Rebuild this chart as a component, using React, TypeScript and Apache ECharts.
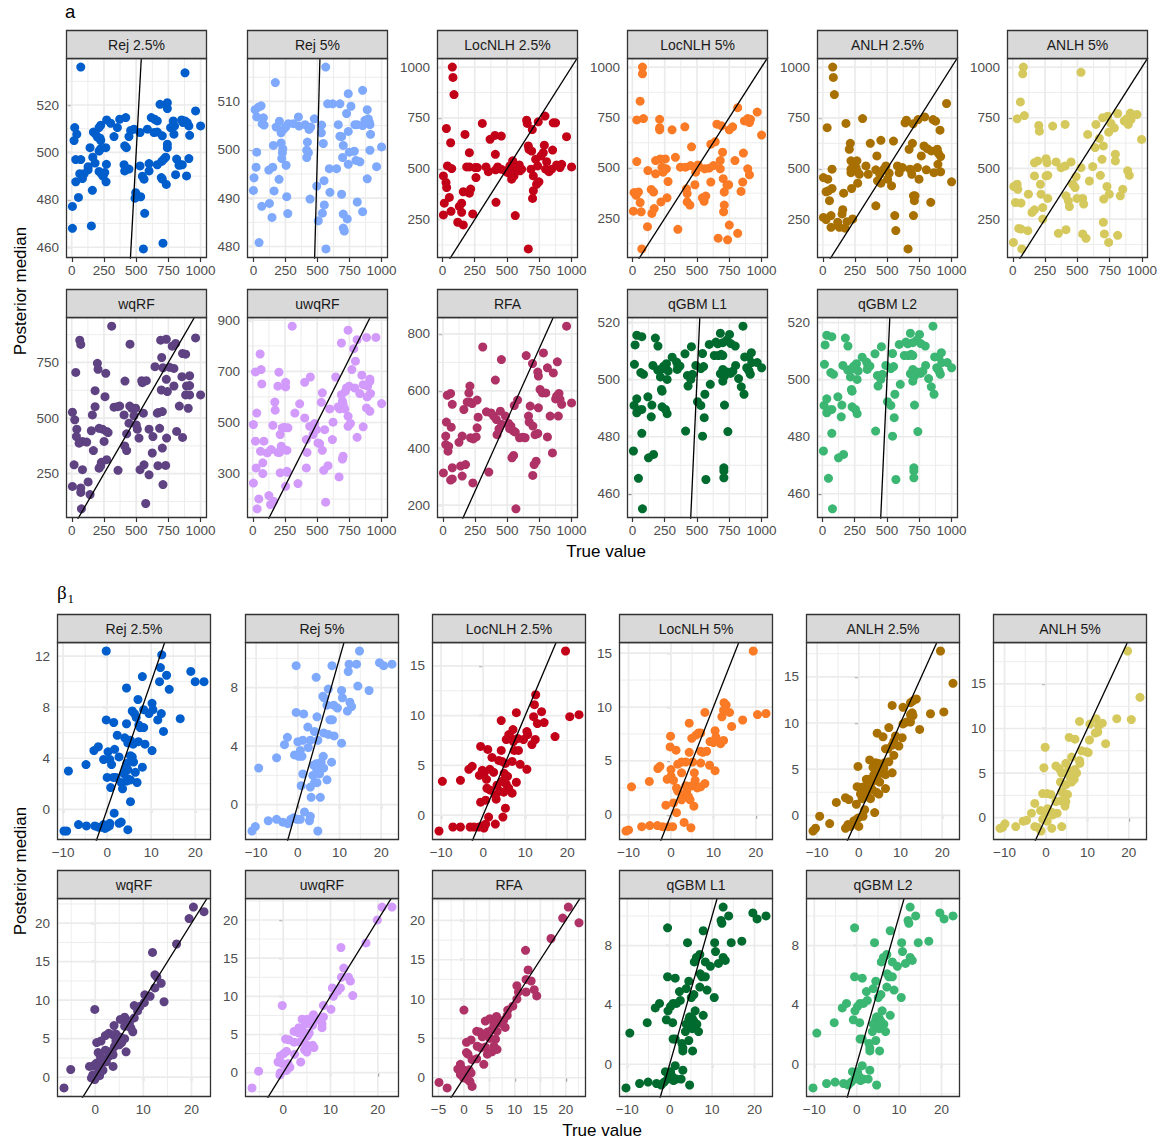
import React, { useEffect, useRef } from "react";
import * as echarts from "echarts";

// ---------------- Section "a" data: [true value, posterior median] ----------------
const aRej25 = [[70,536],[879,533.6],[5,477.2],[5,468],[52,481],[152,469],[160,484],[23,510.5],[39,507.7],[18,505],[31,497],[70,497],[31,487.6],[62,491],[83,489],[96,491],[127,494],[127,492.7],[142,502],[163,498],[181,495.5],[168,508.6],[186,507.7],[199,506.5],[212,510.5],[225,511.5],[220,506],[225,505],[212,500.6],[225,501.6],[212,492],[230,491],[243,490],[256,491.5],[264,502],[269,495],[266,487.6],[271,513.7],[302,512.3],[328,506.7],[354,510.5],[372,514],[419,514.7],[411,502.8],[424,502],[406,494.8],[411,492.2],[444,506.7],[457,509.3],[444,493],[483,509.8],[496,483],[509,481.7],[491,480.7],[535,481.3],[530,494.3],[530,508.4],[548,490],[561,488.7],[566,474.3],[556,459.3],[587,509.8],[600,492.2],[600,495.3],[617,514.7],[643,514],[664,513.3],[638,508.4],[664,508.6],[685,520.3],[703,507],[664,494.8],[698,496.2],[716,497.2],[729,498],[695,489.4],[703,488.7],[734,486.5],[742,521],[742,518.5],[742,503.5],[742,502],[708,461.7],[767,510.5],[788,513.3],[793,507.7],[798,511.2],[806,490.6],[814,497.2],[832,494.6],[853,513.7],[864,512.6],[845,494.8],[858,494.8],[879,513.3],[896,512.6],[909,511.2],[891,490.1],[915,507.2],[909,497.4],[961,517.5],[1000,511.2]];
const aRej5 = [[13,508.3],[26,506.8],[39,508.8],[60,509.1],[78,506.6],[83,505.1],[68,505.4],[26,499.5],[21,496.4],[5,494.2],[0,491.6],[44,480.8],[65,488.3],[145,486],[125,488.9],[120,495.8],[151,496.4],[161,491.5],[156,500.9],[171,513.9],[177,504.7],[203,505.9],[200,493.9],[216,501.4],[229,500.2],[226,499.4],[221,498.2],[216,503.5],[234,504.2],[252,504.7],[273,505.4],[255,496.8],[260,490.3],[268,486.8],[312,505.4],[351,506.8],[356,504.9],[403,505.2],[434,504.2],[447,504.7],[421,501.6],[416,499.9],[416,498.4],[429,499.4],[442,489.8],[475,506.4],[494,492.5],[506,485.3],[532,505.1],[530,503.5],[545,501.3],[551,493.6],[553,488.6],[538,486.9],[566,479.5],[579,509.5],[618,509.5],[675,509.5],[662,505.2],[592,496.1],[597,491.2],[649,496.1],[564,517.1],[675,502.8],[688,502.7],[701,500.9],[696,498.4],[688,490.8],[701,486.7],[701,483.8],[709,483.2],[732,485.7],[727,507.5],[740,511.6],[761,509],[740,503.8],[740,497],[748,499.5],[787,499.7],[792,505.2],[810,505.2],[800,497.8],[810,489.2],[831,497.5],[852,512.3],[852,505],[852,487.2],[870,506.1],[888,508.3],[896,506.4],[904,505.7],[909,505.2],[914,503.2],[909,499.9],[888,494],[1000,500.6],[961,496.5]];
const aLoc25 = [[77,1000],[82,949],[90,865],[31,698],[64,628],[8,465],[28,433],[33,408],[39,514],[72,501],[54,359],[15,331],[8,273],[67,291],[119,237],[149,286],[131,315],[149,331],[162,224],[162,387],[175,669],[209,579],[219,400],[209,380],[235,278],[188,509],[209,509],[253,506],[260,457],[271,506],[309,723],[338,509],[356,486],[369,645],[407,664],[410,571],[412,495],[415,335],[428,509],[456,661],[454,498],[487,490],[506,481],[523,514],[531,490],[544,539],[536,449],[554,465],[564,270],[575,506],[593,506],[601,490],[613,498],[595,519],[652,739],[657,723],[665,612],[665,106],[670,596],[691,587],[696,693],[698,354],[704,392],[686,498],[704,465],[722,547],[729,424],[742,731],[737,514],[747,436],[763,563],[781,579],[789,616],[794,759],[799,498],[807,535],[825,486],[845,498],[853,592],[858,726],[876,726],[884,519],[910,506],[923,522],[961,658],[1000,509]];
const aLoc5 = [[78,1000],[78,967],[60,831],[34,738],[86,745],[34,532],[13,378],[29,365],[47,381],[60,329],[8,286],[68,283],[73,99],[120,487],[117,209],[146,394],[164,381],[151,275],[169,299],[180,471],[180,537],[211,741],[211,700],[211,689],[216,545],[221,332],[229,504],[237,479],[255,545],[263,496],[268,352],[276,433],[307,689],[333,553],[352,196],[372,504],[406,704],[411,504],[419,397],[424,373],[424,332],[445,316],[451,512],[458,605],[484,417],[490,479],[508,515],[516,504],[542,352],[555,335],[568,361],[560,496],[594,499],[607,618],[607,430],[628,512],[641,630],[654,717],[664,152],[680,496],[680,537],[690,709],[698,578],[703,447],[711,381],[706,283],[711,316],[732,414],[745,417],[737,144],[750,689],[776,704],[750,217],[794,537],[815,799],[815,176],[841,384],[854,430],[859,574],[867,733],[893,745],[906,725],[914,741],[893,496],[906,466],[966,777],[1000,663]];
const aAnlh25 = [[77,1000],[82,949],[90,865],[34,702],[72,498],[5,457],[39,449],[26,387],[44,392],[72,403],[52,343],[5,261],[26,250],[64,270],[64,212],[116,237],[129,212],[155,299],[150,278],[162,380],[173,208],[180,723],[188,240],[206,596],[214,625],[219,539],[219,498],[219,481],[224,403],[232,253],[245,522],[258,506],[265,539],[265,490],[271,429],[284,473],[309,747],[335,514],[353,473],[369,625],[412,495],[412,318],[420,563],[425,441],[443,473],[451,640],[451,429],[474,498],[490,514],[503,449],[515,478],[534,416],[549,636],[559,270],[567,196],[580,514],[593,481],[619,506],[639,726],[649,739],[670,596],[678,498],[691,473],[696,625],[701,721],[704,367],[711,343],[704,270],[716,367],[735,506],[747,449],[740,742],[765,563],[786,612],[791,755],[804,495],[812,599],[838,335],[843,588],[856,742],[863,481],[876,734],[889,596],[894,522],[897,576],[910,690],[915,485],[915,560],[961,821],[1000,436],[662,106]];
const aAnlh5 = [[82,1000],[77,967],[59,828],[90,761],[34,745],[528,974],[8,411],[34,422],[39,397],[21,332],[64,329],[46,204],[64,201],[5,135],[116,193],[70,103],[121,373],[149,283],[168,296],[168,463],[168,528],[193,537],[201,712],[206,684],[214,422],[219,373],[232,307],[232,250],[258,548],[258,463],[271,466],[265,528],[271,352],[309,709],[335,532],[353,180],[374,504],[405,512],[405,717],[412,198],[412,365],[430,340],[438,312],[451,532],[464,422],[482,406],[490,460],[497,352],[528,504],[541,352],[549,324],[541,177],[567,155],[580,668],[593,438],[619,509],[637,603],[644,717],[670,648],[678,466],[691,545],[696,750],[701,611],[701,234],[704,349],[709,177],[735,758],[742,679],[729,411],[747,373],[742,135],[760,722],[786,700],[794,570],[794,537],[812,771],[812,170],[832,365],[851,397],[863,734],[881,745],[894,717],[910,773],[915,741],[889,488],[902,466],[961,766],[997,643]];
const aWqrf = [[62,850],[70,831],[31,705],[5,526],[23,492],[39,450],[36,417],[57,387],[83,395],[18,290],[5,193],[70,186],[70,166],[83,268],[75,92],[116,392],[127,213],[142,156],[152,443],[168,354],[160,514],[181,551],[181,623],[199,746],[204,719],[212,454],[212,275],[230,301],[225,286],[238,450],[251,395],[264,701],[258,596],[271,440],[271,313],[282,435],[310,913],[328,549],[354,551],[359,265],[372,554],[406,514],[413,666],[411,375],[426,354],[426,429],[444,477],[452,832],[450,554],[465,544],[483,510],[496,544],[501,469],[509,450],[522,410],[530,268],[548,659],[556,522],[561,290],[543,668],[579,668],[574,116],[600,450],[600,245],[625,343],[630,417],[646,731],[664,522],[672,525],[669,286],[682,454],[690,850],[698,772],[708,726],[695,626],[703,529],[703,365],[708,201],[729,287],[734,854],[734,674],[736,410],[742,619],[760,728],[780,823],[793,723],[793,644],[806,835],[814,440],[835,554],[855,686],[860,790],[860,413],[884,787],[884,604],[891,644],[904,544],[915,690],[915,646],[915,604],[961,860],[1000,604]];
const aUwqrf = [[306,877],[740,861],[688,811],[810,824],[883,833],[956,833],[784,789],[57,768],[21,698],[65,707],[70,651],[203,697],[195,642],[255,657],[255,639],[403,657],[447,678],[644,678],[797,740],[769,707],[847,685],[909,670],[909,661],[891,642],[727,635],[748,642],[719,622],[688,609],[792,635],[857,648],[831,613],[914,613],[888,600],[540,616],[696,583],[701,570],[662,561],[675,553],[714,553],[597,553],[532,579],[364,573],[327,537],[171,580],[174,548],[883,557],[909,544],[1000,574],[740,524],[740,485],[758,496],[857,483],[810,442],[403,518],[481,496],[442,485],[468,453],[494,472],[506,420],[519,417],[540,391],[558,472],[623,501],[618,433],[584,331],[551,313],[566,188],[670,287],[696,357],[701,368],[416,433],[416,322],[421,383],[351,261],[265,309],[265,391],[234,397],[229,479],[247,481],[273,479],[213,453],[221,407],[208,383],[213,303],[195,383],[156,489],[143,394],[112,381],[86,427],[60,387],[78,342],[78,300],[26,322],[5,263],[5,492],[21,427],[31,537],[125,214],[138,179],[161,192],[47,201],[34,162],[255,250],[268,305]];
const aRfa = [[961,827],[309,754],[454,710],[647,724],[781,733],[696,696],[889,702],[737,666],[742,652],[812,681],[858,663],[407,638],[59,591],[33,585],[72,553],[209,617],[201,593],[188,561],[209,561],[227,556],[265,568],[162,535],[273,508],[338,527],[374,523],[394,512],[415,500],[446,529],[485,512],[435,467],[456,483],[420,447],[510,486],[528,477],[549,459],[562,456],[580,568],[554,549],[518,468],[26,491],[21,442],[21,412],[39,389],[64,473],[44,406],[3,313],[72,331],[59,288],[72,292],[137,337],[175,342],[149,302],[124,420],[149,442],[214,436],[235,432],[258,439],[265,471],[232,278],[356,316],[536,366],[549,374],[567,187],[595,436],[621,438],[639,436],[665,512],[670,491],[678,547],[699,477],[716,447],[737,451],[698,304],[709,342],[724,354],[742,541],[755,605],[773,593],[799,593],[812,439],[833,512],[851,383],[876,572],[884,582],[902,591],[910,570],[897,512],[923,553],[1000,558]];
const aQgbm = [[856,518.8],[752,515.9],[681,516.3],[731,513.9],[762,512.7],[796,511.8],[595,512.4],[647,513.2],[661,512.6],[700,513],[457,511.6],[34,515.6],[73,515.1],[21,512.2],[178,514.6],[198,511.8],[407,509.1],[308,507.9],[543,509.2],[634,508.5],[666,508.5],[687,508.9],[700,508.5],[869,508],[901,508.1],[921,509.5],[342,506.2],[352,505],[368,504.8],[347,503.6],[16,505.4],[159,505],[264,505.6],[243,504.8],[217,503.6],[196,503.4],[238,503.9],[277,503.1],[269,500.1],[217,501],[230,496],[225,496.6],[65,502.5],[86,501.9],[530,503.9],[491,505],[551,504.6],[426,501.5],[431,497.8],[452,500.1],[465,501.9],[681,502.1],[700,503.6],[713,501.3],[734,502.7],[760,502.2],[778,503],[700,499.5],[603,498.4],[799,505],[885,504.2],[904,503],[913,501.9],[896,503.6],[924,506],[966,506],[1000,504.2],[822,500.4],[843,497.5],[864,494.9],[561,494.9],[13,491],[34,493.3],[34,488.4],[60,489.4],[73,489.6],[120,494],[151,491.1],[146,487],[230,490.5],[256,489.6],[269,488.1],[504,492.3],[530,491],[556,486.7],[713,491.1],[73,481.2],[412,482],[543,480.2],[739,481.8],[8,475],[164,473.8],[125,472.6],[47,465.4],[569,465],[708,469.1],[708,468],[708,465.6],[78,454.7]];

// ---------------- Section "beta1" data ----------------
const bRej25 = [[-0.2,12.4],[12.4,12.1],[12.1,11.1],[19,10.8],[11.9,10],[13.5,10.5],[20,10],[22,10],[8,10.4],[14.1,9.4],[4.4,9.5],[7,8.6],[10.2,8.3],[9.5,7.5],[10.4,7.8],[8.3,7.8],[5.7,7.7],[6.2,7.5],[6.6,7.2],[12.3,7.5],[11.5,7],[16.6,7.1],[-0.2,7],[1.5,6.8],[4.4,6.7],[7.5,6.4],[8.3,6.4],[7.2,6.6],[12.8,6.1],[2.3,5.8],[4,5.6],[5.3,5.4],[7.1,5.3],[4.7,5.2],[8.6,5.1],[5.9,5.1],[10.2,4.6],[-2,4.9],[-3,4.6],[0.2,4.5],[1.7,4.7],[-0.8,3.9],[0.6,3.9],[2.7,4.1],[5.3,4.2],[5.7,4.1],[6,3.7],[4.5,3.6],[1,3.5],[-4.8,3.5],[-8.8,3],[4.2,3.2],[4.7,3.1],[8,3.3],[3.8,2.8],[6.4,2.9],[0,2.5],[1.4,2.5],[2,2.5],[4.7,2.4],[5.3,2.3],[4.4,2.2],[3.2,2.1],[6.8,2.1],[3.5,1.6],[0.8,1.7],[5.3,0.6],[1.6,-0.3],[-9.2,-1.7],[-6.5,-1.2],[-4.7,-1.3],[-2.8,-1.3],[-2,-1.4],[-1.3,-1.4],[-0.5,-1.5],[0,-1.4],[0.5,-1.3],[-0.8,-1.2],[0.6,-1.1],[2.7,-1.1],[3.2,-1],[4.7,-1.6],[-9.8,-1.7]];
const bRej5 = [[14.8,10.5],[-0.4,9.5],[8.2,9.5],[12.3,9.6],[14.1,9.6],[12.1,9.1],[19.6,9.7],[20.6,9.5],[22.6,9.6],[4.4,8.7],[14.4,8.1],[17.1,7.8],[7.3,7.9],[10.5,7.8],[6,7.4],[6.3,7.3],[10.7,7.3],[12.5,7],[7,6.8],[8.6,6.8],[12.9,6.7],[-0.4,6.3],[1.4,6.2],[9.5,6.6],[11.9,6.4],[4.6,6],[7.7,5.8],[8.3,5.8],[2.4,5.3],[4,5],[6.2,4.9],[8.7,4.7],[7.3,4.8],[4.8,4.4],[3,4.4],[1.2,4.4],[0,4.3],[-2.5,4.6],[-3.2,4.1],[10.5,4.2],[2.5,3.9],[0.6,3.7],[-0.8,3.4],[0.2,3.3],[1,3.3],[-5.1,3.2],[6.1,3.3],[5.6,2.9],[8.1,2.9],[4.4,2.8],[4.9,2.8],[3.8,2.7],[4.4,2.5],[6.2,2.5],[-9.4,2.5],[1.2,2.1],[3.6,2],[5.2,2.1],[7,1.7],[0.8,1.3],[3,1.2],[4,1.5],[4.6,1.5],[3.2,0.5],[5.4,0.5],[1.6,-0.5],[-1,-0.9],[-0.2,-1],[0.6,-1],[-1.7,-1],[-2.4,-1.3],[-3.6,-1.2],[-5.1,-1],[-7.1,-1.1],[3,-0.8],[2.8,-1.1],[4.8,-1.8],[-10.2,-1.5],[-11,-1.8]];
const bLoc25 = [[19.6,16.5],[12.5,12.1],[12.2,11.1],[13.9,10.4],[7.9,10.3],[12,9.9],[20.6,9.9],[22.8,10.1],[14.5,9.3],[12.9,9.2],[4.3,9.5],[7.1,8.6],[10.4,8.4],[10.6,8.1],[9.6,7.6],[12.4,7.6],[17.1,7.9],[11.6,7.1],[6.1,8.1],[6.5,7.8],[5.5,7.6],[8.2,7.7],[7.2,7.4],[7.4,6.5],[8.4,6.5],[-0.6,6.9],[1.1,6.6],[4.3,6.5],[2.1,5.8],[3.7,5.5],[4.5,5.4],[6.9,5.4],[5.3,5.2],[8.8,5.1],[10.4,4.6],[-3.4,4.6],[-2.6,4.9],[-0.2,4.5],[0.2,4.2],[1.6,4.6],[2.5,4.3],[-0.9,4],[0.8,3.6],[5,4.2],[5.8,3.9],[4.5,3.4],[-5.4,3.5],[-9.7,3.4],[3.3,3],[5.5,3.1],[7.9,3.3],[6.1,2.7],[0.9,2.7],[1.7,2.5],[3.9,2.4],[4.9,2.3],[2.9,2],[3.1,1.6],[6.9,2.2],[-0.6,1.3],[0.6,1.5],[5.3,0.7],[1.3,-0.2],[4.7,-0.2],[2.9,-0.9],[-10.5,-1.6],[-7.2,-1.2],[-5.4,-1.2],[-3.1,-1.2],[-2.2,-1.2],[-1,-1.2],[-0.2,-1.1],[0.2,-1.3],[0.6,-0.9]];
const bLoc5 = [[19.4,15.2],[12.5,10.4],[13,10.2],[8,9.5],[12.4,9.7],[13.8,9.5],[12,9.1],[20.4,9.3],[22.4,9.4],[4.3,8.5],[14.3,8.2],[16.9,8.8],[-0.1,7.3],[5.9,7.4],[6.5,7.6],[7,7.6],[10.4,7.8],[10.6,7.2],[4.9,7.1],[9.2,6.8],[10,6.7],[11.7,6.6],[12.4,6.9],[-0.2,6.3],[1.2,6],[4.3,5.8],[7,5.9],[7.5,5.8],[8.4,5.9],[2.5,4.9],[3.5,4.9],[5.1,4.9],[7,4.8],[9.1,4.6],[1.6,4.7],[10.4,4.1],[0,4.2],[2.5,3.9],[5.5,3.9],[-3.1,4.3],[-2.6,4.5],[0,3.6],[-0.9,3.3],[0.6,3.2],[5.7,3.2],[-5.1,3.1],[-9.3,2.6],[3.5,2.7],[4.1,2.6],[4.9,2.7],[6.2,2.5],[7,2.6],[8,2.9],[1.3,2.5],[1.6,2.2],[3.7,2.2],[3.1,1.8],[4.1,1.7],[2.5,1.4],[4.5,1.4],[0.6,1.1],[-1.2,0.9],[5.4,0.8],[1.3,0.2],[0.4,-1.1],[-0.6,-1.1],[-2,-1.1],[-3.2,-1],[-5,-1],[-6.9,-1.1],[-10.6,-1.5],[-10,-1.4],[3.1,-0.7],[4.7,-1.2]];
const bAnlh25 = [[19.6,17.8],[22.6,14.3],[13.8,12.6],[13,12.4],[12.4,12.2],[8,11.9],[10.6,11.7],[20.4,11.2],[17.2,11],[12.8,11.1],[12.4,10.9],[13,10.8],[11.4,10.1],[12.4,10.1],[10.6,9.9],[14.6,9.3],[7.2,9.5],[4.4,8.9],[5.8,8.5],[10.4,8.4],[8.8,8.6],[8.4,8],[8,7.6],[9.6,7.5],[6.4,7.2],[7,7.2],[8.4,6.5],[2.6,6],[7.2,5.8],[4,5.7],[4.8,5.6],[6.2,5.7],[3.4,5.2],[6,5.1],[-0.2,5.3],[5.2,4.8],[8,4.6],[4.6,4.4],[6.4,4.4],[3.6,4.4],[1.8,3.9],[2.4,3.9],[3.8,3.8],[5,3.6],[2.8,3.4],[-0.4,3.1],[0.4,3],[1.2,3.1],[1.6,2.8],[3.2,2.8],[6.4,2.9],[4.2,2.5],[4.8,2.3],[0.4,2.3],[1.6,2.2],[0.8,1.8],[2.2,2],[2.8,1.8],[-3.2,1.9],[-2.4,1.7],[-5.4,1.4],[-0.6,1.2],[1.4,0.6],[3.8,0.3],[1,-0.1],[-0.2,-0.3],[-1.2,-0.6],[-2.6,-1],[-2,-1.2],[0,-1.2],[-3.2,-1.4],[-9.4,-0.1],[-7,-0.9],[-10.4,-1.4],[-11,-1.7]];
const bAnlh5 = [[19.7,18.7],[22.7,13.5],[17.1,11.1],[20.6,11],[12.1,11.1],[10.6,10.5],[8.1,10.8],[13.6,10.6],[12.7,10.3],[11.9,9.5],[12.5,9.6],[14.4,8.3],[5.6,9],[7,8.8],[10.5,8.7],[-0.2,7.9],[6.2,6.8],[8.6,7.5],[9.7,7.4],[10.2,7.3],[2.4,5.8],[3.2,5.5],[4.8,6.1],[3.8,5],[5.4,5.3],[7,5.4],[7.4,5],[8.1,6.4],[8.2,6.1],[-0.5,5.6],[5.8,4.5],[6.8,4.3],[6.2,4],[3.5,4],[4.8,3.7],[3.8,2.9],[4.4,2.7],[5.2,2.6],[-0.8,2.7],[0.3,2.7],[1.2,2.6],[2.4,1.8],[3.6,1.9],[4.8,1.8],[4.6,1.3],[-2.7,1.6],[0.4,1],[-0.2,0.5],[-1.3,0.8],[1.4,0.6],[2.7,0.5],[1.6,0.3],[-3.5,0.5],[-0.8,-0.2],[-4.7,-0.3],[-5.5,-0.4],[-7.3,-1],[-9.9,-0.7],[-11.1,-1.2],[-10.5,-1.1],[-2.7,-1],[-2,-1.1],[-1.2,-1.5],[1.4,-1.2],[3.8,-1],[0.3,-0.4]];
const bWqrf = [[20.4,22.1],[22.6,21.5],[19.5,20.6],[16.9,17.3],[11.9,16.2],[12.4,13.3],[12.8,13],[12.4,11.6],[13.7,12.2],[10.3,10.7],[11.4,10.5],[14.3,9.8],[10.2,9.7],[9.3,9.2],[8.1,9.3],[-0.1,8.8],[8.8,8.6],[8.1,7.7],[6.4,7.5],[6.1,7.8],[5.2,7.5],[7.1,7],[7.4,6.4],[7.8,5.9],[6.1,6.6],[3.9,6.7],[2.8,5.7],[3.7,5.5],[4.3,5.6],[2.1,5.4],[5.2,5.2],[6.1,5],[4.3,4.7],[0.3,4.5],[1.2,4.7],[5,4.2],[5.5,4.5],[4,4],[3.5,3.4],[2.1,3.5],[6.4,3.3],[2.8,2.7],[3.7,2.9],[0.6,3.2],[1.1,2.6],[1.6,2.3],[2.3,2],[0.9,2],[0.2,1.8],[-0.3,1.5],[-1.2,1.4],[0.6,1.2],[1.2,1.6],[3.7,1.4],[1.6,0.9],[0.8,0.5],[-0.5,0.3],[-0.8,-0.1],[-0.1,-0.3],[0.9,0.2],[-5.1,1],[-6.5,-1.4]];
const bUwqrf = [[20.9,21.7],[23,21.7],[19.9,20],[17.5,17],[12.2,16.4],[12.8,13.7],[12.3,12.5],[13.8,12.5],[14.2,12],[12.1,11.1],[10.4,11.1],[11.5,10.7],[14.7,10.1],[10.6,10],[10.1,8.3],[8.5,8.8],[-0.2,8.8],[6.2,7.3],[6.4,7.6],[8.5,7.3],[7.2,7],[8.2,6.4],[8.2,5.9],[5.1,7],[4,7],[4.8,6.4],[6.2,6.2],[3.3,5.9],[4,5.6],[2.3,5.4],[2.8,5.4],[3.3,5.2],[5.5,5.2],[5.1,4.8],[4.4,4.6],[0.5,4.4],[1.2,4.3],[2.3,4],[3.5,4],[4.8,3.7],[6.2,3.6],[6.5,3.3],[5,2.7],[4.5,3],[0.7,2.8],[0.1,2.5],[2.4,2.4],[-0.6,2.2],[3.7,1.4],[-1.1,1.4],[-0.2,1.2],[1,1.2],[1.4,0.7],[0.7,0.3],[-0.6,0],[-0.7,-0.3],[-5.2,0.2],[-6.6,-2]];
const bRfa = [[20.5,21.7],[19.4,20.3],[22.6,19.7],[17.1,17.7],[12.1,16.2],[12.6,13.7],[12.2,12.5],[13.2,12.3],[10.4,11.7],[13.8,11.2],[10.7,10.9],[12.2,10.9],[14.3,10.4],[10.4,10],[9.6,9.1],[8.6,8.6],[0,8.6],[8.5,7.9],[6.4,7.8],[7.8,7.3],[6.8,7.2],[5.1,7.5],[4.2,7.2],[7.3,6.9],[5.9,6.8],[8.1,6.4],[5.5,6.1],[2.5,5.9],[3.1,5.8],[4.6,5.8],[6.5,5.9],[3.6,5.2],[5.1,5],[6.2,4.9],[0.5,4.5],[1.4,4.8],[2.6,4],[3.3,3.8],[4.2,3.9],[5.9,4],[5.5,3.3],[4.6,3],[6.5,3.6],[0.5,3.2],[0.8,3],[1.6,2.3],[2.5,2.4],[3.9,1.7],[-0.7,1.7],[-1.2,1.1],[-0.3,1.1],[0.3,0.6],[1,1],[1.4,0.6],[-0.7,0.4],[-0.1,0],[0.7,-0.2],[1.2,-0.5],[1.6,-1.1],[-4.9,-0.6],[-3.3,-1.3]];
const bQgbm = [[12.6,10.6],[13.9,10],[19.6,10.2],[20.6,9.8],[22.7,10],[12.1,9.7],[12.3,9.5],[-0.5,9.2],[7.9,9],[4.2,8.2],[10.6,8.2],[14.5,8.2],[17,8.3],[10.8,7.6],[7.1,7.4],[6.3,7.2],[12.6,7.2],[13.1,7],[8.4,6.9],[5.8,6.9],[9.6,6.6],[11.5,6.8],[-0.5,5.9],[1.3,5.8],[7.2,6.1],[7.6,5.9],[8.4,5.9],[4.5,5.6],[3.9,5.1],[2.3,4.9],[7.1,5.2],[8.8,5],[5.7,4.7],[5.1,4.5],[10.5,4.5],[2.5,4.3],[1.6,4.1],[0.8,4.1],[0.2,3.9],[-0.4,3.6],[-2.4,4.1],[-3.4,3.8],[6,3.6],[7.9,3.3],[4.7,3.2],[5.3,3.1],[4.5,3],[5.7,2.9],[6.4,2.7],[5,2.7],[-0.8,3],[0.7,2.8],[-5.3,2.8],[3.9,2.7],[5.3,2.4],[3.7,2.2],[6.8,2.2],[4.5,1.6],[0.8,1.7],[1.3,1.7],[2.9,1.4],[3.1,1.1],[3.1,0.9],[5.4,0.9],[-9.4,2.1],[1.3,-0.1],[-1,-0.5],[0.2,-0.5],[3.1,-0.4],[0.5,-0.8],[-0.5,-1],[-1.3,-1.2],[0.9,-1.1],[1.6,-1],[2.7,-1],[-2,-1.4],[-3.1,-1.3],[-5.1,-1.2],[-7.1,-1.3],[4.7,-1.4],[-10.3,-1.6]];

// ---------------- names, colours, tick labels ----------------
const panelNames = ["Rej 2.5%", "Rej 5%", "LocNLH 2.5%", "LocNLH 5%", "ANLH 2.5%", "ANLH 5%", "wqRF", "uwqRF", "RFA", "qGBM L1", "qGBM L2"];
const panelColors = ["#005ECC", "#7EA9FD", "#C20018", "#FA7A25", "#A87000", "#D5C95D", "#5E4282", "#D29BFB", "#AF3266", "#006B2E", "#3BB673"];
const aData = [aRej25, aRej5, aLoc25, aLoc5, aAnlh25, aAnlh5, aWqrf, aUwqrf, aRfa, aQgbm, aQgbm];
const bData = [bRej25, bRej5, bLoc25, bLoc5, bAnlh25, bAnlh5, bWqrf, bUwqrf, bRfa, bQgbm, bQgbm];

const aXTicks = [0, 250, 500, 750, 1000];
const aYTicks = [
  [460, 480, 500, 520], [480, 490, 500, 510], [250, 500, 750, 1000], [250, 500, 750, 1000],
  [250, 500, 750, 1000], [250, 500, 750, 1000], [250, 500, 750], [300, 500, 700, 900],
  [200, 400, 600, 800], [460, 480, 500, 520], [460, 480, 500, 520],
];
const bXTicksStd = [-10, 0, 10, 20];
const bXTicksRF = [0, 10, 20];
const bXTicksRFA = [-5, 0, 5, 10, 15, 20];
const bXTicks = [bXTicksStd, bXTicksStd, bXTicksStd, bXTicksStd, bXTicksStd, bXTicksStd, bXTicksRF, bXTicksRF, bXTicksRFA, bXTicksStd, bXTicksStd];
const bYTicks = [
  [0, 4, 8, 12], [0, 4, 8], [0, 5, 10, 15], [0, 5, 10, 15], [0, 5, 10, 15], [0, 5, 10, 15],
  [0, 5, 10, 15, 20], [0, 5, 10, 15, 20], [0, 5, 10, 15, 20], [0, 4, 8], [0, 4, 8],
];

// ---------------- layout (pixels) ----------------
const FONT = '"Liberation Sans", Arial, Helvetica, sans-serif';
const SERIF = '"Liberation Serif", "DejaVu Serif", serif';
const AXIS_FS = 13.5;
const STRIP_FS = 14;
const TITLE_FS = 17;
const STRIP_H = 28;
const A_COLS = [66, 247, 437, 627, 817, 1007];
const A_W = 141;
const A_ROWS = [{ top: 58, h: 200 }, { top: 317, h: 201 }];
const B_COLS = [57, 245, 432, 619, 806, 993];
const B_W = 154;
const B_ROWS = [{ top: 642, h: 198 }, { top: 898, h: 199 }];

const fmt = (v: number) => String(v).replace("-", "\u2212");

function expand(vals: number[]) {
  const lo = Math.min(...vals), hi = Math.max(...vals);
  const p = (hi - lo) * 0.05;
  return [lo - p, hi + p];
}
function minors(br: number[], lo: number, hi: number) {
  const step = br[1] - br[0];
  const out: number[] = [];
  for (let k = -4; k < br.length + 4; k++) {
    const v = br[0] + (k + 0.5) * step;
    if (v > lo && v < hi) out.push(v);
  }
  return out;
}

function buildOption() {
  const grid: any[] = [], xAxis: any[] = [], yAxis: any[] = [], series: any[] = [], elements: any[] = [];

  const addPanel = (data: number[][], color: string, name: string, xt: number[], yt: number[], left: number, top: number, w: number, h: number) => {
    const idx = grid.length;
    const xr = expand(data.map((d) => d[0]));
    const yr = expand(data.map((d) => d[1]));
    grid.push({ left, top, width: w, height: h, show: false, containLabel: false, outerBoundsMode: "none" });
    const axisBase = (range: number[], ticks: number[], isX: boolean) => ({
      gridIndex: idx, type: "value", min: range[0], max: range[1], scale: true,
      axisLine: { show: false }, splitLine: { show: false }, minorSplitLine: { show: false },
      axisTick: { show: true, inside: false, length: 4, customValues: ticks, lineStyle: { color: "#333333", width: 1.2 } },
      axisLabel: { show: true, customValues: ticks, color: "#4D4D4D", fontSize: AXIS_FS, fontFamily: FONT, margin: isX ? 5 : 7, formatter: (v: number) => fmt(v), hideOverlap: false },
      axisPointer: { show: false },
    });
    xAxis.push(axisBase(xr, xt, true));
    yAxis.push(axisBase(yr, yt, false));

    const gl: number[][] = [];
    xt.filter((v) => v >= xr[0] && v <= xr[1]).forEach((v) => gl.push([0, v, 1]));
    minors(xt, xr[0], xr[1]).forEach((v) => gl.push([0, v, 0]));
    yt.filter((v) => v >= yr[0] && v <= yr[1]).forEach((v) => gl.push([1, v, 1]));
    minors(yt, yr[0], yr[1]).forEach((v) => gl.push([1, v, 0]));
    series.push({
      type: "custom", xAxisIndex: idx, yAxisIndex: idx, data: gl, silent: true, z: 1,
      renderItem: (params: any, api: any) => {
        const cs = params.coordSys;
        const dir = api.value(0), v = api.value(1), major = api.value(2);
        const style = { stroke: "#EBEBEB", lineWidth: major ? 1.7 : 0.9 };
        if (dir === 0) {
          const px = api.coord([v, yr[0]])[0];
          return { type: "line", shape: { x1: px, y1: cs.y, x2: px, y2: cs.y + cs.height }, style };
        }
        const py = api.coord([xr[0], v])[1];
        return { type: "line", shape: { x1: cs.x, y1: py, x2: cs.x + cs.width, y2: py }, style };
      },
    });
    series.push({
      type: "scatter", xAxisIndex: idx, yAxisIndex: idx, data, symbolSize: 9, silent: true, z: 2,
      itemStyle: { color, opacity: 1, borderWidth: 0 },
    });
    const lo = Math.min(xr[0], yr[0]), hi = Math.max(xr[1], yr[1]);
    series.push({
      type: "line", xAxisIndex: idx, yAxisIndex: idx, data: [[lo, lo], [hi, hi]], symbol: "none", silent: true, z: 3,
      clip: true, lineStyle: { color: "#000000", width: 1.3 },
    });

    elements.push({
      type: "rect", silent: true, z: 50,
      shape: { x: left + 0.5, y: top + 0.5, width: w - 1, height: h - 1 },
      style: { fill: "none", stroke: "#333333", lineWidth: 1.3 },
    });
    elements.push({
      type: "rect", silent: true, z: 50,
      shape: { x: left + 0.5, y: top - STRIP_H + 0.5, width: w - 1, height: STRIP_H },
      style: { fill: "#D9D9D9", stroke: "#333333", lineWidth: 1.3 },
    });
    elements.push({
      type: "text", silent: true, z: 51, x: left + w / 2, y: top - STRIP_H / 2 + 0.5,
      style: { text: name, fill: "#1A1A1A", fontSize: STRIP_FS, fontFamily: FONT, align: "center", verticalAlign: "middle", textAlign: "center", textVerticalAlign: "middle" },
    });
  };

  aData.forEach((d, i) => {
    const row = i < 6 ? 0 : 1, col = i < 6 ? i : i - 6;
    addPanel(d, panelColors[i], panelNames[i], aXTicks, aYTicks[i], A_COLS[col], A_ROWS[row].top, A_W, A_ROWS[row].h);
  });
  bData.forEach((d, i) => {
    const row = i < 6 ? 0 : 1, col = i < 6 ? i : i - 6;
    addPanel(d, panelColors[i], panelNames[i], bXTicks[i], bYTicks[i], B_COLS[col], B_ROWS[row].top, B_W, B_ROWS[row].h);
  });

  const txt = (text: string, x: number, y: number, size: number, extra: any = {}, family = FONT) => ({
    type: "text", silent: true, z: 60, x, y, ...extra,
    style: { text, fill: "#000000", fontSize: size, fontFamily: family, align: extra.align || "center", verticalAlign: "middle", textAlign: extra.align || "center", textVerticalAlign: "middle" },
  });
  elements.push(txt("a", 65, 11, 18.5, { align: "left" }));
  elements.push(txt("True value", 606, 551, TITLE_FS));
  elements.push(txt("Posterior median", 20, 291, TITLE_FS, { rotation: Math.PI / 2 }));
  elements.push(txt("\u03b2", 57, 592, 19, { align: "left" }, SERIF));
  elements.push(txt("1", 67.5, 598, 13, { align: "left" }, SERIF));
  elements.push(txt("True value", 602, 1130, TITLE_FS));
  elements.push(txt("Posterior median", 20, 871, TITLE_FS, { rotation: Math.PI / 2 }));

  return {
    animation: false,
    backgroundColor: "#FFFFFF",
    grid, xAxis, yAxis, series,
    graphic: { elements },
  };
}

export default function App() {
  const ref = useRef<HTMLDivElement>(null);
  useEffect(() => {
    if (!ref.current) return;
    const chart = echarts.init(ref.current, undefined, { renderer: "svg" });
    chart.setOption(buildOption() as any);
    return () => chart.dispose();
  }, []);
  return <div ref={ref} style={{ position: "absolute", left: 0, top: 0, width: 1162, height: 1140 }} />;
}
